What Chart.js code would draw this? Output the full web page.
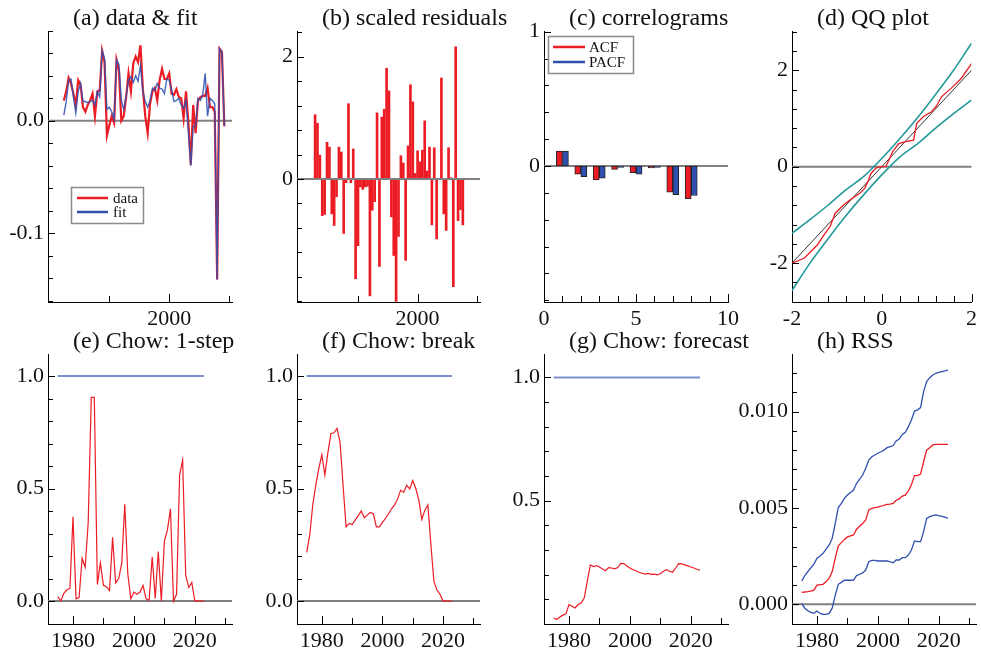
<!DOCTYPE html>
<html>
<head>
<meta charset="utf-8">
<script src="https://cdn.jsdelivr.net/npm/chart.js@4.4.0/dist/chart.umd.min.js"></script>
<style>
  body { margin: 0; background: #fff; }
  #wrap { position: relative; width: 981px; height: 654px; }
  #wrap canvas { position: absolute; left: 0; top: 0; }
</style>
</head>
<body>
<div id="wrap">
  <canvas id="pa" width="981" height="654"></canvas>
  <canvas id="pb" width="981" height="654"></canvas>
  <canvas id="pc" width="981" height="654"></canvas>
  <canvas id="pd" width="981" height="654"></canvas>
  <canvas id="pe" width="981" height="654"></canvas>
  <canvas id="pf" width="981" height="654"></canvas>
  <canvas id="pg" width="981" height="654"></canvas>
  <canvas id="ph" width="981" height="654"></canvas>
</div>
<script>
// ---- data ----
// (a) data & fit, annual 1956-2023
const firstYearA = 1956;
const dataA = [0.018, 0.026, 0.038, 0.033, 0.024, 0.014, 0.036, 0.032, 0.012, 0.008,
  0.014, 0.018, 0.024, 0.004, 0.026, 0.027, 0.062, 0.052, -0.013, -0.004,
  0.004, -0.002, 0.054, 0.045, 0.0, 0.004, 0.021, 0.042, 0.026, 0.051,
  0.057, 0.052, 0.067, 0.028, 0.004, -0.011, 0.015, 0.026, 0.029, 0.018,
  0.036, 0.046, 0.037, 0.037, 0.042, 0.024, 0.023, 0.028, 0.021, 0.020,
  0.002, 0.026, -0.002, -0.039, 0.014, -0.011, 0.018, 0.021, 0.022, 0.022,
  0.029, 0.012, 0.012, 0.008, -0.141, 0.064, 0.061, -0.005];
const fitA = [0.005, 0.017, 0.036, 0.037, 0.021, 0.007, 0.026, 0.033, 0.017, 0.017,
  0.016, 0.017, 0.018, 0.014, 0.026, 0.021, 0.062, 0.055, 0.010, 0.012,
  0.008, 0.001, 0.054, 0.050, 0.018, 0.010, 0.021, 0.036, 0.039, 0.034,
  0.040, 0.035, 0.049, 0.026, 0.017, 0.012, 0.018, 0.029, 0.027, 0.033,
  0.029, 0.028, 0.024, 0.037, 0.036, 0.027, 0.017, 0.018, 0.020, 0.014,
  0.011, 0.018, -0.010, -0.040, -0.005, -0.005, 0.020, 0.018, 0.023, 0.042,
  0.004, 0.020, 0.018, 0.015, -0.141, 0.064, 0.061, -0.005];

// (b) scaled residuals 1957-2019
const firstYearB = 1957;
const residB = [1.05, 0.91, 0.39, -0.60, -0.58, 0.60, 0.52, -0.57, -0.76, -0.29,
  0.52, 0.44, -0.89, -0.06, 1.23, -0.06, 0.49, -1.63, -1.09, -0.13,
  -0.17, -0.13, -0.12, -1.91, -0.51, -0.37, 1.08, -1.43, 1.01, 1.14,
  1.81, 1.44, -0.62, -1.25, -2.00, -0.94, 0.38, 0.26, -1.33, 0.54,
  1.54, 1.26, 0.09, 0.46, 0.28, 0.47, 0.95, 0.13, 0.52, -0.75,
  0.51, -0.98, 0.0, 1.65, -0.57, -0.84, 0.51, 0.02, -1.76, 2.16,
  -0.68, -0.50, -0.75];

// (c) correlograms
const lags = [1, 2, 3, 4, 5, 6, 7, 8];
const acf = [0.11, -0.062, -0.104, -0.025, -0.05, -0.015, -0.196, -0.243];
const pacf = [0.11, -0.079, -0.09, -0.01, -0.062, -0.01, -0.213, -0.22];

// (d) QQ plot
const qqX = [-2, -1.73, -1.44, -1.29, -1.15, -1.04, -0.86, -0.71, -0.49, -0.38, -0.31, -0.24, -0.13, -0.02,
  0.09, 0.16, 0.24, 0.38, 0.53, 0.71, 0.78, 0.93, 1.11, 1.22, 1.33, 1.55, 1.77, 2];
const qqY = [-2.0, -1.90, -1.63, -1.42, -1.24, -0.97, -0.80, -0.69, -0.55, -0.45, -0.31, -0.14, -0.03, 0.0,
  0.0, 0.14, 0.31, 0.48, 0.52, 0.55, 0.90, 1.04, 1.14, 1.26, 1.45, 1.63, 1.83, 2.14];
const bandX = [-2, -1.6, -1.2, -0.8, -0.4, 0, 0.4, 0.8, 1.2, 1.6, 2];
const bandUp = [-1.38, -1.1, -0.8, -0.48, -0.2, 0.17, 0.58, 1.02, 1.5, 2.0, 2.56];
const bandLo = [-2.57, -2.0, -1.5, -1.02, -0.58, -0.17, 0.2, 0.48, 0.8, 1.1, 1.38];
const refLine = [-2, 2];

// (e)-(h) recursive statistics, 1975-2023
const firstYearR = 1975;
const chowCrit = 1.0;
const chow1 = [0.02, 0.0, 0.034, 0.05, 0.056, 0.375, 0.01, 0.015, 0.19, 0.15,
  0.35, 0.905, 0.905, 0.074, 0.17, 0.07, 0.064, 0.046, 0.283, 0.08,
  0.10, 0.167, 0.43, 0.12, 0.01, 0.04, 0.03, 0.04, 0.07, 0.01,
  0.003, 0.197, 0.012, 0.22, 0.0, 0.267, 0.315, 0.41, 0.0, 0.03,
  0.56, 0.627, 0.115, 0.06, 0.083, 0.0, 0.0, 0.0, 0.0];
const chowBreak = [0.216, 0.293, 0.427, 0.515, 0.59, 0.65, 0.56, 0.66, 0.745, 0.748,
  0.767, 0.708, 0.515, 0.33, 0.345, 0.34, 0.36, 0.38, 0.40, 0.37,
  0.382, 0.394, 0.388, 0.33, 0.33, 0.35, 0.367, 0.388, 0.41, 0.427,
  0.453, 0.493, 0.483, 0.515, 0.498, 0.536, 0.50, 0.45, 0.363, 0.404,
  0.427, 0.249, 0.086, 0.049, 0.03, 0.0, 0.0, 0.0, 0.0];
const chowFc = [0.024, 0.018, 0.028, 0.036, 0.041, 0.079, 0.072, 0.065, 0.079, 0.085,
  0.105, 0.173, 0.24, 0.233, 0.237, 0.231, 0.223, 0.216, 0.229, 0.227,
  0.224, 0.229, 0.246, 0.245, 0.235, 0.227, 0.22, 0.216, 0.21, 0.206,
  0.202, 0.205, 0.201, 0.202, 0.199, 0.204, 0.214, 0.22, 0.214, 0.21,
  0.227, 0.245, 0.244, 0.24, 0.236, 0.231, 0.227, 0.222, 0.218];
const rss = [0.00062, 0.00064, 0.00066, 0.00069, 0.00074, 0.0010, 0.00102, 0.00104, 0.00118, 0.00135,
  0.0017, 0.0024, 0.00304, 0.0032, 0.00337, 0.0035, 0.00355, 0.0036, 0.0039, 0.00405,
  0.00419, 0.00438, 0.0049, 0.00498, 0.00502, 0.00505, 0.00509, 0.00514, 0.00519, 0.0052,
  0.00524, 0.0054, 0.00547, 0.00562, 0.00567, 0.00588, 0.0062, 0.00668, 0.00668, 0.00676,
  0.0074, 0.0080, 0.00813, 0.00827, 0.0083, 0.0083, 0.0083, 0.0083, 0.0083];
const rssUp = [0.00121, 0.00149, 0.0017, 0.0019, 0.00208, 0.00239, 0.00251, 0.00265, 0.00287, 0.00308,
  0.00343, 0.0042, 0.00502, 0.00524, 0.0055, 0.00567, 0.0058, 0.00593, 0.00628, 0.0065,
  0.00671, 0.00706, 0.00749, 0.00766, 0.00775, 0.00784, 0.00792, 0.0080, 0.00813, 0.00818,
  0.00824, 0.00848, 0.00858, 0.00882, 0.00893, 0.00922, 0.00957, 0.01003, 0.01009, 0.01021,
  0.01104, 0.01156, 0.01176, 0.0119, 0.01199, 0.01204, 0.01208, 0.01211, 0.01215];
const rssLo = [0.00005, -0.0002, -0.00033, -0.00042, -0.00047, -0.00035, -0.00047, -0.00052, -0.00052, -0.00047,
  -0.0002, 0.00048, 0.00104, 0.00114, 0.00125, 0.00125, 0.00125, 0.00126, 0.00149, 0.00156,
  0.00163, 0.00178, 0.00221, 0.00228, 0.00228, 0.00225, 0.00225, 0.00225, 0.00225, 0.00221,
  0.00216, 0.0023, 0.0023, 0.00242, 0.00242, 0.00256, 0.00282, 0.00329, 0.00325, 0.00325,
  0.00377, 0.00446, 0.00455, 0.0046, 0.00464, 0.0046, 0.00457, 0.00452, 0.00446];

// tick labels
const tickYearsTop = [2000];
const tickYearsBottom = [1980, 2000, 2020];

// ---- helpers ----
const RED = '#ec1c24', BLUE = '#3050b0', LBLUE = '#7b90cf', TEAL = '#23999a', GREY = '#808080';
const XH = 40;
const FONT = 'Liberation Serif';

function range(a, b, step) {
  let out = [];
  for (let v = a; v <= b + step / 1000; v += step) out.push(+v.toFixed(6));
  return out;
}
function years(first, n) {
  let out = [];
  for (let i = 0; i < n; i++) out.push(first + i);
  return out;
}
function pts(xs, ys) { return xs.map((x, i) => ({x: x, y: ys[i]})); }

function axis(min, max, labels, fmt, isX, w) {
  return {
    type: 'linear', min: min, max: max, offset: false,
    grid: {display: false, drawTicks: false},
    border: {display: true, color: '#000', width: 1},
    afterBuildTicks: s => { s.ticks = labels.map(v => ({value: v})); },
    afterFit: s => { if (isX) s.height = XH; else s.width = w; },
    ticks: {font: {family: FONT, size: 22}, color: '#111', padding: 4,
      autoSkip: false, maxRotation: 0, callback: v => fmt(v)}
  };
}

function near(list, v) { return list.some(u => Math.abs(u - v) < 1e-9); }

function zeroLine(chart) {
  const ctx = chart.ctx, a = chart.chartArea;
  const y = chart.scales.y.getPixelForValue(0);
  ctx.save();
  ctx.strokeStyle = GREY; ctx.lineWidth = 2;
  ctx.beginPath(); ctx.moveTo(a.left, y); ctx.lineTo(a.right, y); ctx.stroke();
  ctx.restore();
}

const deco = {
  id: 'deco',
  beforeDatasetsDraw(chart, args, o) { if (o.zero === 'before') zeroLine(chart); },
  afterDatasetsDraw(chart, args, o) {
    if (o.zero === 'after') zeroLine(chart);
    const ctx = chart.ctx, a = chart.chartArea, sx = chart.scales.x, sy = chart.scales.y;
    ctx.save();
    ctx.strokeStyle = '#000'; ctx.lineWidth = 1;
    o.xt.forEach(v => {
      const p = Math.round(sx.getPixelForValue(v)) + 0.5;
      const len = near(o.xl, v) ? 8 : 6;
      ctx.beginPath(); ctx.moveTo(p, a.bottom); ctx.lineTo(p, a.bottom - len); ctx.stroke();
    });
    o.yt.forEach(v => {
      const p = Math.round(sy.getPixelForValue(v)) + 0.5;
      const len = near(o.yl, v) ? 7 : 5;
      ctx.beginPath(); ctx.moveTo(a.left, p); ctx.lineTo(a.left + len, p); ctx.stroke();
    });
    if (o.legend) {
      const L = o.legend;
      ctx.fillStyle = '#fff';
      ctx.fillRect(L.box[0], L.box[1], L.box[2] - L.box[0], L.box[3] - L.box[1]);
      ctx.strokeStyle = '#8a8a8a'; ctx.lineWidth = 1.5;
      ctx.strokeRect(L.box[0] + 0.5, L.box[1] + 0.5, L.box[2] - L.box[0], L.box[3] - L.box[1]);
      ctx.font = '15px "' + FONT + '"';
      ctx.textBaseline = 'middle';
      L.items.forEach(it => {
        ctx.strokeStyle = it.color; ctx.lineWidth = 2.5;
        ctx.beginPath(); ctx.moveTo(L.line[0], it.y); ctx.lineTo(L.line[1], it.y); ctx.stroke();
        ctx.fillStyle = '#111';
        ctx.fillText(it.label, L.text, it.y + 1);
      });
    }
    ctx.restore();
  },
  afterDraw(chart, args, o) {
    const ctx = chart.ctx, a = chart.chartArea;
    ctx.save();
    ctx.font = '24px "' + FONT + '"';
    ctx.fillStyle = '#111';
    ctx.textBaseline = 'alphabetic';
    ctx.fillText(o.title, a.left + 25, o.ty);
    ctx.restore();
  }
};

function panel(id, box, yw, type, datasets, xAxis, yAxis, deco_opts) {
  yAxis.afterFit = s => { s.width = yw; };
  new Chart(document.getElementById(id), {
    type: type,
    data: {datasets: datasets},
    options: {
      responsive: false, animation: false, events: [],
      layout: {autoPadding: false,
        padding: {left: box.l - yw, top: box.t, right: 981 - box.r, bottom: 654 - box.b - XH}},
      scales: {x: xAxis, y: yAxis},
      plugins: {legend: {display: false}, tooltip: {enabled: false}, deco: deco_opts}
    },
    plugins: [deco]
  });
}

function line(data, color, width, extra) {
  return Object.assign({data: data, borderColor: color, borderWidth: width, pointRadius: 0,
    fill: false, tension: 0}, extra || {});
}

const f1 = v => v.toFixed(1), f0 = v => String(v), f3 = v => v.toFixed(3);

// (a) data & fit
const yrsA = years(firstYearA, dataA.length);
panel('pa', {l: 48, t: 31, r: 232, b: 302}, 44, 'line', [
  line(pts(yrsA, dataA), RED, 2.2, {order: 1}),
  line(pts(yrsA, fitA), 'rgba(48,80,176,0.88)', 1.4, {order: 0})
], axis(1949.4, 2026.2, tickYearsTop, f0, true),
   axis(-0.1609, 0.0796, [-0.1, 0.0], f1, false),
   {title: '(a) data & fit', ty: 25, zero: 'before',
    xt: [1975, 2000, 2025], xl: tickYearsTop, yt: range(-0.16, 0.08, 0.02), yl: [-0.1, 0],
    legend: {box: [71, 187, 143, 223], line: [77, 108], text: 113,
      items: [{label: 'data', color: RED, y: 198}, {label: 'fit', color: BLUE, y: 212}]}});

// (b) scaled residuals
const yrsB = years(firstYearB, residB.length);
panel('pb', {l: 297, t: 31, r: 480, b: 302}, 44, 'bar', [
  {data: pts(yrsB, residB), backgroundColor: RED, borderWidth: 0, barThickness: 2}
], axis(1949.4, 2026.2, tickYearsTop, f0, true),
   axis(-2.01, 2.418, [0, 2], f0, false),
   {title: '(b) scaled residuals', ty: 25, zero: 'after',
    xt: [1975, 2000, 2025], xl: tickYearsTop, yt: range(-2, 2.4, 0.4), yl: [0, 2]});

// (c) correlograms
const barStyle = {borderColor: '#222', borderWidth: 1, borderSkipped: false, barThickness: 6, grouped: false};
panel('pc', {l: 544, t: 31, r: 728, b: 302}, 44, 'bar', [
  Object.assign({data: pts(lags.map(k => k - 0.165), acf), backgroundColor: RED}, barStyle),
  Object.assign({data: pts(lags.map(k => k + 0.165), pacf), backgroundColor: BLUE}, barStyle)
], axis(0, 10, [0, 5, 10], f0, true),
   axis(-1.013, 1.005, [0, 1], f0, false),
   {title: '(c) correlograms', ty: 25, zero: 'before',
    xt: range(0, 10, 1), xl: [0, 5, 10], yt: range(-1, 1, 0.2), yl: [0, 1],
    legend: {box: [548, 36, 633, 73], line: [553, 585], text: 589,
      items: [{label: 'ACF', color: RED, y: 47}, {label: 'PACF', color: BLUE, y: 62}]}});

// (d) QQ plot
panel('pd', {l: 792, t: 31, r: 976, b: 302}, 44, 'line', [
  line(pts(qqX, qqY), RED, 1.3),
  line(pts(refLine, refLine), '#333', 1),
  line(pts(bandX, bandUp), TEAL, 1.6, {cubicInterpolationMode: 'monotone'}),
  line(pts(bandX, bandLo), TEAL, 1.6, {cubicInterpolationMode: 'monotone'})
], axis(-2, 2, [-2, 0, 2], f0, true),
   axis(-2.807, 2.815, [-2, 0, 2], f0, false),
   {title: '(d) QQ plot', ty: 25, zero: 'before',
    xt: range(-2, 2, 0.4), xl: [-2, 0, 2], yt: range(-2.8, 2.8, 0.4), yl: [-2, 0, 2]});

// (e)-(h)
const yrsR = years(firstYearR, chow1.length);
const critLine = pts(yrsR, yrsR.map(() => chowCrit));
const xBottom = () => axis(1971.8, 2032.2, tickYearsBottom, f0, true);
const xtBottom = range(1980, 2030, 10);

panel('pe', {l: 48, t: 354, r: 232, b: 624}, 44, 'line', [
  line(critLine, LBLUE, 2),
  line(pts(yrsR, chow1), RED, 1.2)
], xBottom(), axis(-0.102, 1.098, [0, 0.5, 1], f1, false),
   {title: '(e) Chow: 1-step', ty: 348, zero: 'before',
    xt: xtBottom, xl: tickYearsBottom, yt: range(-0.1, 1.0, 0.1), yl: [0, 0.5, 1]});

panel('pf', {l: 297, t: 354, r: 480, b: 624}, 44, 'line', [
  line(critLine, LBLUE, 2),
  line(pts(yrsR, chowBreak), RED, 1.2)
], xBottom(), axis(-0.102, 1.098, [0, 0.5, 1], f1, false),
   {title: '(f) Chow: break', ty: 348, zero: 'before',
    xt: xtBottom, xl: tickYearsBottom, yt: range(-0.1, 1.0, 0.1), yl: [0, 0.5, 1]});

panel('pg', {l: 544, t: 354, r: 728, b: 624}, 44, 'line', [
  line(critLine, LBLUE, 2),
  line(pts(yrsR, chowFc), RED, 1.2)
], xBottom(), axis(0.0, 1.095, [0.5, 1], f1, false),
   {title: '(g) Chow: forecast', ty: 348, zero: null,
    xt: xtBottom, xl: tickYearsBottom, yt: range(0.1, 1.0, 0.1), yl: [0.5, 1]});

panel('ph', {l: 792, t: 354, r: 976, b: 624}, 60, 'line', [
  line(pts(yrsR, rss), RED, 1.3),
  line(pts(yrsR, rssUp), BLUE, 1.3),
  line(pts(yrsR, rssLo), BLUE, 1.3)
], xBottom(), axis(-0.00102, 0.01299, [0, 0.005, 0.01], f3, false),
   {title: '(h) RSS', ty: 348, zero: 'before',
    xt: xtBottom, xl: tickYearsBottom, yt: range(-0.001, 0.012, 0.001), yl: [0, 0.005, 0.01]});
</script>
</body>
</html>
